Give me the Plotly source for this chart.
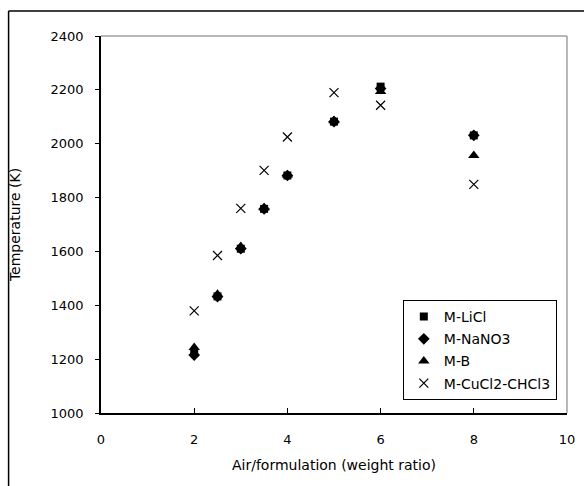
import plotly.graph_objects as go

x_vals = [2, 2.5, 3, 3.5, 4, 5, 6, 8]
licl = [1225, 1433, 1610, 1758, 1882, 2082, 2212, 2031]
nano3 = [1215, 1432, 1610, 1758, 1882, 2082, 2205, 2031]
mb = [1243, 1441, 1618, 1762, 1884, 2085, 2194, 1956]
cucl2 = [1379, 1585, 1760, 1901, 2025, 2190, 2143, 1849]

names = ["M-LiCl", "M-NaNO3", "M-B", "M-CuCl2-CHCl3"]
series = [licl, nano3, mb, cucl2]
symbols = ["square", "diamond", "triangle-up", "x-thin-open"]
sizes = [8, 9, 10, 9]

FONT = "DejaVu Sans"

fig = go.Figure()
for n, s, sym, sz in zip(names, series, symbols, sizes):
    fig.add_trace(go.Scatter(
        x=x_vals, y=s, mode="markers", name=n, legendgroup=n,
        marker=dict(symbol=sym, size=sz, color="black",
                    line=dict(color="black", width=1.2 if sym.startswith("x") else 0)),
    ))

W, H = 584, 486
L, R, T, B = 101, 9, 36, 73
pw, ph = W - L - R, H - T - B

def px(xp):
    return (xp - L) / pw

def py(yp):
    return 1 - (yp - T) / ph

shapes = [
    dict(type="line", xref="paper", yref="paper", x0=0, x1=1, y0=1, y1=1,
         line=dict(color="#a0a0a0", width=1.5)),
    dict(type="line", xref="paper", yref="paper", x0=1, x1=1, y0=0, y1=1,
         line=dict(color="#a0a0a0", width=1.5)),
    dict(type="line", xref="paper", yref="paper", x0=px(7), x1=px(600), y0=py(11), y1=py(11),
         line=dict(color="black", width=1.5)),
    dict(type="line", xref="paper", yref="paper", x0=px(7), x1=px(7), y0=py(11), y1=py(500),
         line=dict(color="black", width=1.5)),
]

fig.update_layout(
    width=W, height=H,
    margin=dict(l=L, r=R, t=T, b=B),
    paper_bgcolor="white", plot_bgcolor="white",
    font=dict(family=FONT, size=13, color="black"),
    showlegend=True,
    legend=dict(x=px(408), y=py(300), xanchor="left", yanchor="top",
                bordercolor="black", borderwidth=1, bgcolor="white",
                font=dict(family=FONT, size=14), tracegroupgap=1,
                itemsizing="trace", itemwidth=30),
    shapes=shapes,
    xaxis=dict(range=[0, 10], tickvals=[0, 2, 4, 6, 8, 10], ticks="inside", ticklen=5,
               tickcolor="black", showline=True, linecolor="black", linewidth=1.5,
               showgrid=False, zeroline=False, ticklabelstandoff=14,
               tickfont=dict(size=13),
               title=dict(text="Air/formulation (weight ratio)", standoff=14,
                          font=dict(size=14))),
    yaxis=dict(range=[1000, 2400], tickvals=list(range(1000, 2401, 200)), ticks="outside",
               ticklen=4, tickcolor="black", showline=True, linecolor="black", linewidth=1.5,
               showgrid=False, zeroline=False, ticklabelstandoff=9,
               tickfont=dict(size=13),
               title=dict(text="Temperature (K)", standoff=27, font=dict(size=14))),
)

fig.write_html("out.html")
